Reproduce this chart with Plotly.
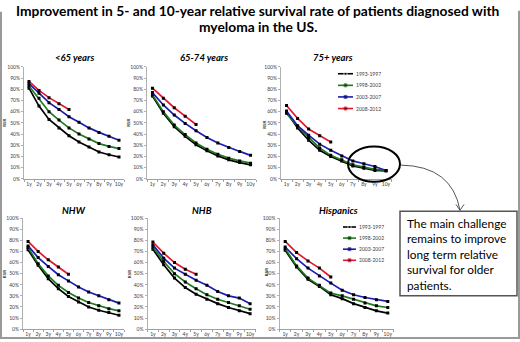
import plotly.graph_objects as go

W, H = 520, 342

# ---------------- data ----------------
years = ["1y", "2y", "3y", "4y", "5y", "6y", "7y", "8y", "9y", "10y"]
periods = ["1993-1997", "1998-2002", "2003-2007", "2008-2012"]
series_colors = ["#000000", "#1f7a1f", "#1c1cb4", "#e3172d"]

lt65_9397 = [81, 65, 53, 45.5, 38.5, 33, 28.5, 24, 21.5, 19.5]
lt65_9802 = [83, 72, 60, 52.5, 45.5, 40, 35.5, 31.5, 29, 27]
lt65_0307 = [85, 76.5, 68, 62, 55.5, 50.5, 45.5, 41.5, 38, 34.5]
lt65_0812 = [87, 79, 72.5, 67, 62]

a6574_9397 = [74, 58.5, 46.5, 38, 30.5, 25, 20.5, 17, 14.5, 12.5]
a6574_9802 = [75, 60, 48, 39.5, 32, 26.5, 22, 18.5, 16, 14]
a6574_0307 = [77, 66, 57, 49.5, 43, 37, 32, 28, 24.5, 21]
a6574_0812 = [81, 72, 63.5, 56, 48.5]

a75_9397 = [59.5, 45.5, 34.5, 25.5, 20, 16, 11.5, 9.5, 7.5, 7]
a75_9802 = [58.5, 47, 37, 27.5, 21, 17, 12.5, 10.5, 8.5, 7.5]
a75_0307 = [60.5, 47.5, 39, 31, 25.5, 20.5, 16, 13.5, 11, 7.5]
a75_0812 = [65.5, 54, 44.5, 38.5, 33]

nhw_9397 = [71.5, 57.5, 45.5, 36.5, 29.5, 24.5, 20, 17, 15, 12.5]
nhw_9802 = [73.5, 59, 48, 39.5, 33, 28, 24, 21, 18.5, 16.5]
nhw_0307 = [75, 64.5, 56.5, 49, 43.5, 38, 33.5, 30, 26.5, 23.5]
nhw_0812 = [79, 70, 62.5, 56, 49.5]

nhb_9397 = [72, 58, 46, 37.5, 31.5, 27, 23, 19.5, 16.5, 14]
nhb_9802 = [74, 61, 50, 42.5, 36.5, 31, 27, 24, 21, 18]
nhb_0307 = [76, 64, 55, 49.5, 44, 39.5, 34, 30, 28, 23]
nhb_0812 = [78.5, 68.5, 60, 54, 49.5]

his_9397 = [71, 56, 45, 38.5, 31, 27.5, 23, 19.5, 16.5, 14.5]
his_9802 = [72.5, 57, 46, 39.5, 32.5, 30, 27, 23.5, 21, 19.5]
his_0307 = [74, 63.5, 55, 48, 41.5, 35, 31, 28.5, 26.5, 25]
his_0812 = [79, 69, 61.5, 55, 47]

y_ticks = [0, 10, 20, 30, 40, 50, 60, 70, 80, 90, 100]
y_ticktext = [f"{v}%" for v in y_ticks]

panel_titles = ["<65 years", "65-74 years", "75+ years", "NHW", "NHB", "Hispanics"]
panel_series = [
    [lt65_9397, lt65_9802, lt65_0307, lt65_0812],
    [a6574_9397, a6574_9802, a6574_0307, a6574_0812],
    [a75_9397, a75_9802, a75_0307, a75_0812],
    [nhw_9397, nhw_9802, nhw_0307, nhw_0812],
    [nhb_9397, nhb_9802, nhb_0307, nhb_0812],
    [his_9397, his_9802, his_0307, his_0812],
]

title_lines = ["Improvement in 5- and 10-year relative survival rate of patients diagnosed with",
               "myeloma in the US."]
box_lines = ["The main challenge", "remains to improve", "long term relative",
             "survival for older", "patients."]

# ---------------- layout (pixels) ----------------
boxes = [
    (24, 124, 65, 179),
    (147, 256, 65, 179),
    (281, 391.5, 65, 179),
    (23, 124, 219, 332),
    (147.5, 255.5, 219, 332),
    (279.5, 393.5, 219, 332),
]
title_pos = [(74, 55), (204, 55), (333, 55), (74, 211), (202, 211), (338, 211)]
rsr_pos = [(5, 122), (129, 122), (265, 124), (4, 276), (129, 276), (266, 274)]
legend_boxes = [(338, 72, 11.8, 15), (343, 228, 11.3, 13)]


def fx(x):
    return x / W


def fy(y):
    return 1 - y / H


fig = go.Figure()
layout = dict(
    width=W, height=H, margin=dict(l=0, r=0, t=0, b=0),
    paper_bgcolor="white", plot_bgcolor="rgba(0,0,0,0)", showlegend=False,
    font=dict(family="Lato", color="#404040"),
)
annotations = []
shapes = []

for i, (title, sers) in enumerate(zip(panel_titles, panel_series)):
    n = i + 1
    xa = "x" if n == 1 else f"x{n}"
    ya = "y" if n == 1 else f"y{n}"
    l, r, t, b = boxes[i]
    layout["xaxis" if n == 1 else f"xaxis{n}"] = dict(
        domain=[fx(l), fx(r)], range=[0.5, 10.5], anchor=ya,
        tickmode="array", tickvals=list(range(1, 11)), ticktext=years,
        tickfont=dict(size=5, color="#404040"), showline=True, linecolor="#a0a0a0",
        linewidth=1, showgrid=False, zeroline=False, ticks="", fixedrange=True,
        minor=dict(tickmode="linear", tick0=0.5, dtick=1, ticks="outside", ticklen=2,
                   tickcolor="#a0a0a0", showgrid=False),
    )
    layout["yaxis" if n == 1 else f"yaxis{n}"] = dict(
        domain=[fy(b), fy(t)], range=[0, 100], anchor=xa,
        tickmode="array", tickvals=y_ticks, ticktext=y_ticktext,
        tickfont=dict(size=5, color="#404040"), showline=True, linecolor="#b0b0b0",
        linewidth=1, showgrid=False, zeroline=False, ticks="outside", ticklen=2,
        tickcolor="#b0b0b0", fixedrange=True,
    )
    for k, vals in enumerate(sers):
        fig.add_trace(go.Scatter(
            x=list(range(1, len(vals) + 1)), y=vals, xaxis=xa, yaxis=ya,
            mode="lines+markers", name=periods[k],
            line=dict(color=series_colors[k], width=1.7),
            marker=dict(symbol="square", size=3, color="#000000"),
        ))
    tx, ty = title_pos[i]
    annotations.append(dict(
        x=fx(tx), y=fy(ty), xref="paper", yref="paper", showarrow=False,
        text=f"<b><i>{title}</i></b>", font=dict(family="Lato", size=9.5, color="#000000"),
        xanchor="center", yanchor="middle",
    ))
    rx, ry = rsr_pos[i]
    annotations.append(dict(
        x=fx(rx), y=fy(ry), xref="paper", yref="paper", showarrow=False,
        text="<b>RSR</b>", textangle=-90, font=dict(family="Lato", size=4.5, color="#404040"),
        xanchor="center", yanchor="middle",
    ))

# manual legends (panels 3 and 6) on a pixel overlay axis
layout["xaxis7"] = dict(domain=[0, 1], range=[0, W], visible=False, fixedrange=True, anchor="y7")
layout["yaxis7"] = dict(domain=[0, 1], range=[H, 0], visible=False, fixedrange=True, anchor="x7")
for (lx, ly, dy, sl) in legend_boxes:
    for k, p in enumerate(periods):
        yy = ly + k * dy
        fig.add_trace(go.Scatter(
            x=[lx, lx + sl / 2, lx + sl], y=[yy, yy, yy], xaxis="x7", yaxis="y7",
            mode="lines+markers", line=dict(color=series_colors[k], width=1.6),
            marker=dict(symbol="square", size=[0, 3, 0], color="#000000"),
            hoverinfo="skip",
        ))
        annotations.append(dict(
            x=lx + sl + 1, y=yy, xref="x7", yref="y7", showarrow=False, text=p,
            font=dict(family="Lato", size=5, color="#404040"), xanchor="left", yanchor="middle",
        ))

# main title
for j, line in enumerate(title_lines):
    annotations.append(dict(
        x=fx(258), y=fy(7.5 + 16 * j), xref="paper", yref="paper", showarrow=False,
        text=f"<b>{line}</b>", font=dict(family="Lato", size=13.8, color="#000000"),
        xanchor="center", yanchor="middle",
    ))

# image frame
frame_col = "#9a9a9a"
shapes.append(dict(type="line", xref="paper", yref="paper", x0=fx(1), x1=fx(1), y0=fy(9), y1=fy(341),
                   line=dict(color=frame_col, width=2)))
shapes.append(dict(type="line", xref="paper", yref="paper", x0=fx(519), x1=fx(519), y0=fy(8), y1=fy(341),
                   line=dict(color=frame_col, width=2)))
shapes.append(dict(type="line", xref="paper", yref="paper", x0=fx(0), x1=fx(520), y0=fy(341), y1=fy(341),
                   line=dict(color=frame_col, width=2)))

# ellipse highlight
shapes.append(dict(type="circle", xref="paper", yref="paper", x0=fx(348), x1=fx(400),
                   y0=fy(182), y1=fy(146), line=dict(color="#000000", width=2)))

# curved arrow
shapes.append(dict(type="path", xref="paper", yref="paper",
                   path=f"M {fx(401)} {fy(165)} Q {fx(452)} {fy(166)} {fx(460)} {fy(211)}",
                   line=dict(color="#555555", width=1)))
shapes.append(dict(type="path", xref="paper", yref="paper",
                   path=f"M {fx(456)} {fy(205)} L {fx(460)} {fy(211)} L {fx(464)} {fy(205)}",
                   line=dict(color="#555555", width=1)))

# text box
shapes.append(dict(type="rect", xref="paper", yref="paper", x0=fx(400), x1=fx(517),
                   y0=fy(298), y1=fy(212), fillcolor="white", line=dict(color="#555555", width=1.5)))
for j, line in enumerate(box_lines):
    annotations.append(dict(
        x=fx(405), y=fy(224 + 15.8 * j), xref="paper", yref="paper", showarrow=False,
        text=line, font=dict(family="Lato", size=11.8, color="#000000"),
        xanchor="left", yanchor="middle",
    ))

layout["annotations"] = annotations
layout["shapes"] = shapes
fig.update_layout(**layout)
fig.write_html(
    "out.html",
    config={"displayModeBar": False},
    post_script="document.body.style.margin='0px';document.body.style.overflow='hidden';",
)
